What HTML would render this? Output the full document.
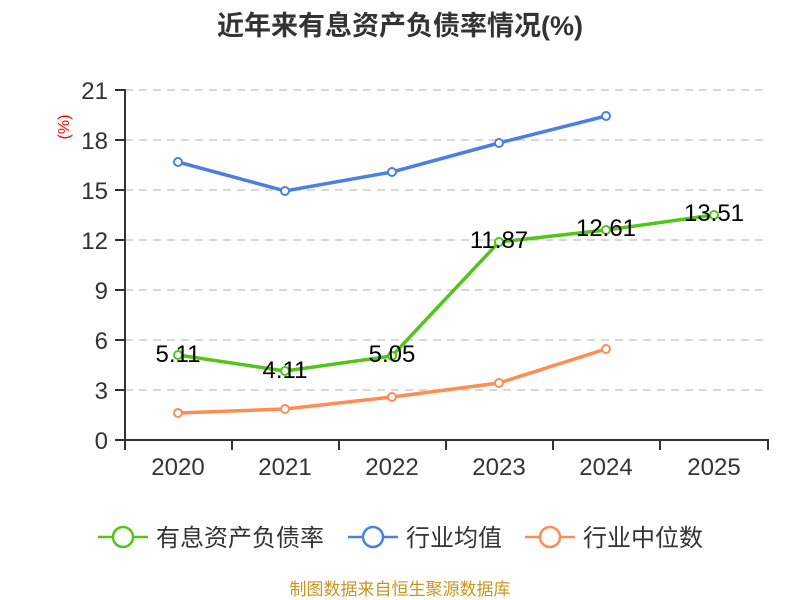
<!DOCTYPE html>
<html><head><meta charset="utf-8"><style>body{margin:0;background:#fff}svg{display:block}</style></head><body>
<svg width="800" height="600" xmlns="http://www.w3.org/2000/svg" font-family="Liberation Sans, Noto Sans CJK SC, sans-serif">
<text x="400" y="35" text-anchor="middle" font-size="27" font-weight="bold" fill="#333">近年来有息资产负债率情况(%)</text>
<text transform="translate(69,127) rotate(-90)" text-anchor="middle" font-size="16" fill="#f00">(%)</text>
<g stroke="#ccc" stroke-dasharray="8,6" stroke-width="1.5">
<line x1="125" x2="768" y1="90" y2="90"/><line x1="125" x2="768" y1="140" y2="140"/><line x1="125" x2="768" y1="190" y2="190"/><line x1="125" x2="768" y1="240" y2="240"/><line x1="125" x2="768" y1="290" y2="290"/><line x1="125" x2="768" y1="340" y2="340"/><line x1="125" x2="768" y1="390" y2="390"/>
</g>
<g stroke="#333" stroke-width="2">
<line x1="125" y1="89" x2="125" y2="441"/><line x1="124" y1="440" x2="769" y2="440"/>
<line x1="115" x2="125" y1="90" y2="90"/><line x1="115" x2="125" y1="140" y2="140"/><line x1="115" x2="125" y1="190" y2="190"/><line x1="115" x2="125" y1="240" y2="240"/><line x1="115" x2="125" y1="290" y2="290"/><line x1="115" x2="125" y1="340" y2="340"/><line x1="115" x2="125" y1="390" y2="390"/><line x1="115" x2="125" y1="440" y2="440"/>
<line x1="125" x2="125" y1="440" y2="450"/><line x1="232" x2="232" y1="440" y2="450"/><line x1="339" x2="339" y1="440" y2="450"/><line x1="446" x2="446" y1="440" y2="450"/><line x1="553" x2="553" y1="440" y2="450"/><line x1="660" x2="660" y1="440" y2="450"/><line x1="768" x2="768" y1="440" y2="450"/>
</g>
<g font-size="24" fill="#333" text-anchor="end">
<text x="108" y="99">21</text><text x="108" y="149">18</text><text x="108" y="199">15</text><text x="108" y="249">12</text><text x="108" y="299">9</text><text x="108" y="349">6</text><text x="108" y="399">3</text><text x="108" y="449">0</text>
</g>
<g font-size="24" fill="#333" text-anchor="middle">
<text x="178" y="475">2020</text><text x="285" y="475">2021</text><text x="392" y="475">2022</text><text x="499" y="475">2023</text><text x="606" y="475">2024</text><text x="714" y="475">2025</text>
</g>
<g fill="none" stroke-width="3.5">
<polyline stroke="#4a80e0" points="178,162 285,191 392,172 499,143 606,116"/>
<polyline stroke="#ff8c55" points="178,413 285,409 392,397 499,383 606,349"/>
<polyline stroke="#52c41a" points="178,355 285,371 392,356 499,242 606,230 714,215"/>
</g>
<g fill="#fff" stroke-width="2">
<g stroke="#4a80e0"><circle cx="178" cy="162" r="4"/><circle cx="285" cy="191" r="4"/><circle cx="392" cy="172" r="4"/><circle cx="499" cy="143" r="4"/><circle cx="606" cy="116" r="4"/></g>
<g stroke="#ff8c55"><circle cx="178" cy="413" r="4"/><circle cx="285" cy="409" r="4"/><circle cx="392" cy="397" r="4"/><circle cx="499" cy="383" r="4"/><circle cx="606" cy="349" r="4"/></g>
<g stroke="#52c41a"><circle cx="178" cy="355" r="4"/><circle cx="285" cy="371" r="4"/><circle cx="392" cy="356" r="4"/><circle cx="499" cy="242" r="4"/><circle cx="606" cy="230" r="4"/><circle cx="714" cy="215" r="4"/></g>
</g>
<g font-size="24" fill="#000" text-anchor="middle">
<text x="178" y="362">5.11</text><text x="285" y="378">4.11</text><text x="392" y="362">5.05</text><text x="499" y="248">11.87</text><text x="606" y="236">12.61</text><text x="714" y="221">13.51</text>
</g>
<g stroke-width="2.5" fill="#fff">
<line x1="98" x2="148" y1="537" y2="537" stroke="#52c41a"/><circle cx="123" cy="537" r="10" stroke="#52c41a"/>
<line x1="348" x2="398" y1="537" y2="537" stroke="#4a80e0"/><circle cx="373" cy="537" r="10" stroke="#4a80e0"/>
<line x1="525" x2="575" y1="537" y2="537" stroke="#ff8c55"/><circle cx="550" cy="537" r="10" stroke="#ff8c55"/>
</g>
<g font-size="24" fill="#333">
<text x="156" y="546">有息资产负债率</text><text x="406" y="546">行业均值</text><text x="583" y="546">行业中位数</text>
</g>
<text x="400" y="595" text-anchor="middle" font-size="17" fill="#c8961e">制图数据来自恒生聚源数据库</text>
</svg>
</body></html>
